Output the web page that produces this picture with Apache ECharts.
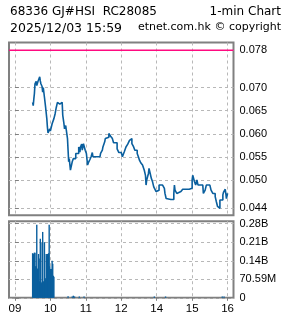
<!DOCTYPE html>
<html><head><meta charset="utf-8">
<script src="https://cdn.jsdelivr.net/npm/echarts@6/dist/echarts.min.js"></script>
<style>html,body{margin:0;padding:0;background:#fff}#c{width:285px;height:318px}</style>
</head><body><div id="c"></div>
<script>
const priceTimes = ['09:30','09:31','09:32','09:33','09:34','09:35','09:36','09:37','09:39','09:40','09:42','09:43','09:44','09:46','09:47','09:48','09:50','09:52','09:54','09:55','09:56','09:57','09:59','10:00','10:03','10:06','10:08','10:10','10:12','10:14','10:16','10:18','10:20','10:21','10:23','10:24','10:26','10:27','10:29','10:30','10:31','10:32','10:34','10:36','10:37','10:39','10:41','10:43','10:44','10:46','10:48','10:50','10:51','10:53','10:54','10:56','10:58','10:59','11:01','11:03','11:05','11:07','11:09','11:11','11:12','11:19','11:24','11:25','11:28','11:29','11:32','11:33','11:36','11:39','11:42','11:45','11:47','11:53','11:56','12:00','13:00','13:02','13:05','13:08','13:11','13:14','13:15','13:18','13:21','13:23','13:27','13:29','13:31','13:33','13:36','13:39','13:41','13:42','13:43','13:46','13:47','13:49','13:51','13:53','13:55','13:56','13:58','13:59','14:01','14:04','14:07','14:10','14:13','14:14','14:16','14:18','14:24','14:27','14:29','14:30','14:31','14:34','14:36','14:41','14:44','14:55','14:58','15:00','15:01','15:04','15:06','15:08','15:10','15:18','15:19','15:22','15:24','15:30','15:32','15:35','15:39','15:41','15:43','15:45','15:47','15:50','15:52','15:53','15:56','15:57','15:58','16:00'];
const priceValues = [0.0668,0.0661,0.0675,0.0687,0.0708,0.0709,0.0713,0.0704,0.0713,0.0710,0.0723,0.0714,0.0708,0.0702,0.0690,0.0700,0.0679,0.0657,0.0633,0.0615,0.0602,0.0600,0.0611,0.0606,0.0622,0.0633,0.0643,0.0657,0.0668,0.0664,0.0665,0.0668,0.0668,0.0640,0.0622,0.0611,0.0618,0.0608,0.0590,0.0565,0.0540,0.0547,0.0522,0.0518,0.0540,0.0547,0.0547,0.0558,0.0555,0.0558,0.0572,0.0561,0.0572,0.0578,0.0565,0.0579,0.0575,0.0565,0.0558,0.0533,0.0540,0.0545,0.0551,0.0560,0.0551,0.0551,0.0551,0.0558,0.0565,0.0572,0.0583,0.0590,0.0593,0.0601,0.0595,0.0590,0.0581,0.0568,0.0560,0.0560,0.0560,0.0551,0.0561,0.0572,0.0578,0.0586,0.0590,0.0579,0.0572,0.0565,0.0558,0.0551,0.0543,0.0538,0.0533,0.0522,0.0511,0.0490,0.0500,0.0515,0.0526,0.0515,0.0504,0.0497,0.0486,0.0490,0.0483,0.0476,0.0479,0.0490,0.0490,0.0486,0.0483,0.0472,0.0461,0.0459,0.0459,0.0459,0.0472,0.0490,0.0479,0.0472,0.0476,0.0472,0.0481,0.0481,0.0483,0.0501,0.0511,0.0497,0.0490,0.0501,0.0490,0.0490,0.0472,0.0479,0.0490,0.0490,0.0479,0.0472,0.0465,0.0454,0.0444,0.0440,0.0458,0.0458,0.0469,0.0474,0.0481,0.0472,0.0461,0.0472];
const volTimes = ['09:30','09:31','09:32','09:33','09:34','09:35','09:36','09:37','09:38','09:39','09:40','09:41','09:42','09:43','09:44','09:45','09:46','09:47','09:48','09:49','09:50','09:51','09:52','09:53','09:54','09:55','09:56','09:57','09:58','09:59','10:00','10:01','10:02','10:03','10:04','10:05','10:06','10:30','10:37','10:39','10:41','10:49','10:57','13:56','14:15','15:51','15:54'];
const volValues = [170,165,168,172,172,120,120,278,111,111,167,150,63,225,210,56,60,251,63,60,212,75,70,167,160,167,165,170,278,120,110,105,110,141,130,84,80,6,5,8,5,5,5,5,5,5,5]; // millions
const prevClose = 0.078;
const sessionStart = '08:50';
const sessionEnd = '16:10';
const priceTicks = [0.044,0.050,0.055,0.060,0.065,0.070,0.078];
const volTicks = [0,70.59,141.18,211.77,282.36];
const volTickLabels = ['0','70.59M','0.14B','0.21B','0.28B'];
const hourTicks = ['09:00','10:00','11:00','12:00','14:00','15:00','16:00'];
const hourLabels = ['09','10','11','12','14','15','16'];
const headerLeft1 = '68336 GJ#HSI  RC28085';
const headerRight1 = '1-min Chart';
const headerLeft2 = '2025/12/03 15:59';
const headerRight2 = 'etnet.com.hk \u00a9 copyright';

function pos(t){const [h,m]=t.split(':').map(Number);return h*60+m-540-(h>=13?60:0);}
const hourPos = hourTicks.map(pos);
const labelMap = {}; hourPos.forEach((p,i)=>labelMap[p]=hourLabels[i]);
const volLabelMap = {}; volTicks.forEach((v,i)=>volLabelMap[v.toFixed(2)]=volTickLabels[i]);
const xMin = pos(sessionStart), xMax = pos(sessionEnd);

const BLUE = '#0a5f9e';
const GRIDC = '#b8b8b8';
const FONT = 'Liberation Sans';
const chart = echarts.init(document.getElementById('c'), null, {renderer:'canvas'});
chart.setOption({
  animation:false,
  backgroundColor:'#ffffff',
  grid:[
    {left:9,right:51.5,top:42.5,height:172.7,show:true,borderColor:'#808080',borderWidth:2,backgroundColor:'transparent'},
    {left:9,right:51.5,top:221.2,height:76.6,show:true,borderColor:'#808080',borderWidth:2,backgroundColor:'transparent'}
  ],
  xAxis:[
    {type:'value',gridIndex:0,min:xMin,max:xMax,axisLine:{show:false},axisLabel:{show:false},
     axisTick:{show:false,customValues:hourPos},
     splitLine:{show:true,lineStyle:{color:GRIDC,type:[3,3],width:1}}},
    {type:'value',gridIndex:1,min:xMin,max:xMax,axisLine:{show:false},
     axisTick:{show:true,customValues:hourPos,length:3,lineStyle:{color:'#808080'}},
     axisLabel:{customValues:hourPos,formatter:v=>labelMap[v],fontFamily:FONT,fontSize:11.5,color:'#000',margin:5},
     splitLine:{show:true,lineStyle:{color:GRIDC,type:[3,3],width:1}}}
  ],
  yAxis:[
    {type:'value',gridIndex:0,position:'right',min:0.042515,max:0.07968,axisLine:{show:false},
     axisTick:{show:true,customValues:priceTicks,length:4,lineStyle:{color:'#808080'}},
     axisLabel:{customValues:priceTicks,formatter:v=>v.toFixed(3),fontFamily:FONT,fontSize:11,color:'#000',margin:6},
     splitLine:{show:true,lineStyle:{color:GRIDC,type:[3,3],width:1}}},
    {type:'value',gridIndex:1,position:'right',min:0,max:291.9,axisLine:{show:false},
     axisTick:{show:true,customValues:volTicks,length:4,lineStyle:{color:'#808080'}},
     axisLabel:{customValues:volTicks,formatter:v=>volLabelMap[v.toFixed(2)],fontFamily:FONT,fontSize:11,color:'#000',margin:6},
     splitLine:{show:true,lineStyle:{color:GRIDC,type:[3,3],width:1}}}
  ],
  series:[
    {type:'line',xAxisIndex:0,yAxisIndex:0,symbol:'none',z:3,
     lineStyle:{color:'#ff0a80',width:1.5},
     data:[[xMin,prevClose],[xMax,prevClose]]},
    {type:'line',xAxisIndex:0,yAxisIndex:0,step:'end',symbol:'none',z:4,
     lineStyle:{color:BLUE,width:1.6},
     data:priceTimes.map((t,i)=>[pos(t),priceValues[i]])},
    {type:'bar',xAxisIndex:1,yAxisIndex:1,barWidth:1.4,itemStyle:{color:BLUE},
     data:volTimes.map((t,i)=>[pos(t),volValues[i]])}
  ],
  graphic:[
    {type:'text',left:10,top:6,style:{text:headerLeft1,font:'12px "DejaVu Sans"',fill:'#000'}},
    {type:'text',right:4,top:6,style:{text:headerRight1,font:'12px "DejaVu Sans"',fill:'#000'}},
    {type:'text',left:10,top:22,style:{text:headerLeft2,font:'12.5px "DejaVu Sans"',fill:'#000'}},
    {type:'text',right:4,top:22,style:{text:headerRight2,font:'11px "DejaVu Sans"',fill:'#000'}}
  ]
});
</script></body></html>
